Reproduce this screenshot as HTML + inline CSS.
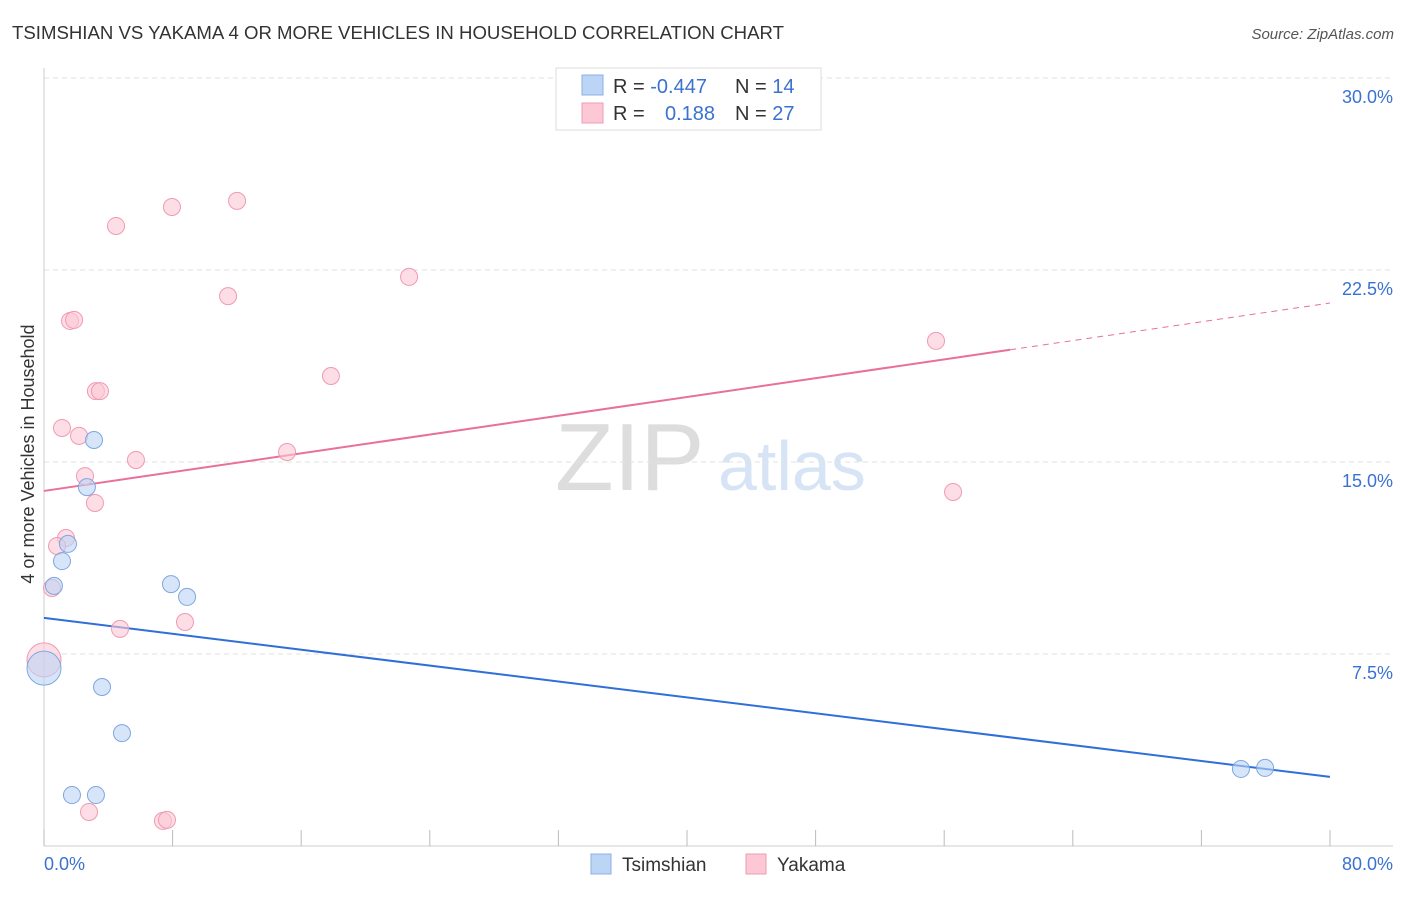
<!DOCTYPE html>
<html><head><meta charset="utf-8"><style>
body{margin:0;background:#fff;font-family:"Liberation Sans",sans-serif}
svg text{font-family:"Liberation Sans",sans-serif}
</style></head><body>
<svg id="c" width="1406" height="892" xmlns="http://www.w3.org/2000/svg">
<text x="12" y="39" font-size="18" fill="#333" textLength="772" lengthAdjust="spacingAndGlyphs">TSIMSHIAN VS YAKAMA 4 OR MORE VEHICLES IN HOUSEHOLD CORRELATION CHART</text>
<text x="1394" y="39" font-size="15" fill="#555" font-style="italic" text-anchor="end">Source: ZipAtlas.com</text>
<text x="0" y="0" transform="translate(34,454) rotate(-90)" font-size="18" fill="#333" text-anchor="middle">4 or more Vehicles in Household</text>
<text x="555" y="490" font-size="96" fill="#ddd" font-family="Liberation Serif">ZIP</text>
<text x="718" y="490" font-size="70" fill="#d6e4f5">atlas</text>
<g id="grid"></g><g id="axes"></g><g id="lines"></g><g id="pts"></g>
<g>
<rect x="556" y="68" width="265" height="62" fill="#fff" stroke="#ddd"/>
<rect x="582" y="75" width="21" height="20" fill="#bcd4f5" stroke="#8ab0e8"/>
<rect x="582" y="103" width="21" height="20" fill="#fcc8d6" stroke="#f09ab2"/>
<text x="613" y="93" font-size="20" fill="#333">R = <tspan fill="#3a72d0">-0.447</tspan></text>
<text x="735" y="93" font-size="20" fill="#333">N = <tspan fill="#3a72d0">14</tspan></text>
<text x="613" y="120" font-size="20" fill="#333">R = </text>
<text x="665" y="120" font-size="20" fill="#3a72d0">0.188</text>
<text x="735" y="120" font-size="20" fill="#333">N = <tspan fill="#3a72d0">27</tspan></text>
</g>
<g>
<rect x="591" y="854" width="20" height="20" fill="#bcd4f5" stroke="#8ab0e8"/>
<text x="622" y="871" font-size="19" fill="#333">Tsimshian</text>
<rect x="746" y="854" width="20" height="20" fill="#fcc8d6" stroke="#f09ab2"/>
<text x="777" y="871" font-size="19" fill="#333">Yakama</text>
</g>
</svg>
<script>
const yTicks=[7.5,15,22.5,30];
const xTickLabels=["0.0%","80.0%"];
const tsimX=[0.62,1.12,1.49,3.11,2.67,7.90,8.90,3.61,4.85,1.74,3.23,74.46,75.96,0];
const tsimY=[10.16,11.13,11.80,15.86,14.02,10.23,9.73,6.21,4.41,1.99,1.99,3.01,3.05,6.95];
const yakX=[0.5,4.48,7.96,12.01,11.45,22.71,1.62,1.87,3.23,3.48,1.12,2.18,5.72,2.55,3.17,1.37,0.81,17.85,15.12,55.49,56.55,4.73,8.77,2.8,7.4,7.65,0];
const yakY=[10.08,24.22,24.96,25.2,21.48,22.23,20.51,20.55,17.77,17.77,16.33,16.02,15.08,14.45,13.4,12.03,11.72,18.36,15.39,19.73,13.83,8.48,8.75,1.33,0.98,1.02,7.27];
const tsimTrend=[8.91,2.70];
const yakTrend=[13.87,21.21];
const NS="http://www.w3.org/2000/svg";
const X=v=>44+v*16.075, Y=v=>846-v*25.6;
function mk(t,a,p){const e=document.createElementNS(NS,t);for(const k in a)e.setAttribute(k,a[k]);document.getElementById(p).appendChild(e);return e;}
yTicks.forEach(t=>{
 const l=mk('line',{x1:44,x2:1393,y1:Y(t),y2:Y(t),stroke:'#e2e2e2','stroke-dasharray':'5,4'},'grid');
 
 
 const tx=mk('text',{x:1393,y:Y(t)+25,'font-size':18,fill:'#3a72d0','text-anchor':'end'},'grid');
 tx.textContent=t.toFixed(1)+'%';
 
 
});
mk('line',{x1:44,x2:44,y1:68,y2:846,stroke:'#ccc'},'axes');
mk('line',{x1:44,x2:1393,y1:846,y2:846,stroke:'#ccc'},'axes');
for(let i=0;i<=10;i++){const t=mk('line',{x1:X(i*8),x2:X(i*8),y1:830,y2:846,stroke:'#bbb'},'axes');
 
 }
[[0,'start',xTickLabels[0]],[80,'end',xTickLabels[1]]].forEach(([v,a,s])=>{
 const t=mk('text',{x:v==0?44:1393,y:870,'font-size':18,fill:'#3a72d0','text-anchor':a},'axes');t.textContent=s;
 
 });
let l=mk('line',{x1:X(0),y1:Y(tsimTrend[0]),x2:X(80),y2:Y(tsimTrend[1]),stroke:'#2f6fd8','stroke-width':2},'lines');


const ya=x=>yakTrend[0]+(yakTrend[1]-yakTrend[0])*x/80;
l=mk('line',{x1:X(0),y1:Y(ya(0)),x2:X(60.1),y2:Y(ya(60.1)),stroke:'#e8709a','stroke-width':2},'lines');


l=mk('line',{x1:X(60.1),y1:Y(ya(60.1)),x2:X(80),y2:Y(ya(80)),stroke:'#e8709a','stroke-width':1,'stroke-dasharray':'6,5'},'lines');


function pts(xs,ys,f,s,n){xs.forEach((x,i)=>{const big=x===0;
 const c=mk('circle',{cx:X(x),cy:Y(ys[i]),r:big?17:8.5,fill:f,'fill-opacity':0.6,stroke:s},'pts');
 
 });}
pts(yakX,yakY,'#fcc8d6','#f09ab2','yakama-point');
pts(tsimX,tsimY,'#bcd4f5','#7fa6e0','tsimshian-point');
</script>
</body></html>
